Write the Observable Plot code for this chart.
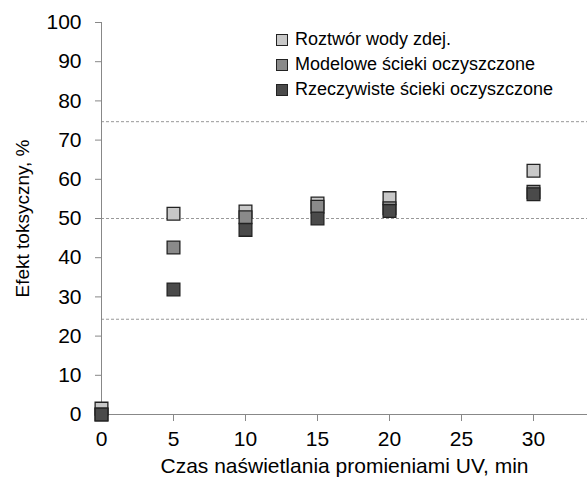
<!DOCTYPE html>
<html>
<head>
<meta charset="utf-8">
<script src="https://cdn.jsdelivr.net/npm/d3@7"></script>
<script src="https://cdn.jsdelivr.net/npm/@observablehq/plot@0.6"></script>
<style>
  body { margin: 0; background: #fff; }
  #wrap { position: relative; width: 587px; height: 480px; font-family: "Liberation Sans", Arial, sans-serif; }
  .legend { position: absolute; left: 276px; top: 27px; font-size: 18px; color: #000; }
  .legend div { height: 25px; display: flex; align-items: center; }
  .legend span.sw { display: inline-block; width: 10px; height: 10px; border: 1px solid #222; margin-right: 7px; }
</style>
</head>
<body>
<div id="wrap"></div>
<script>
const times = [0, 5, 10, 15, 20, 30];
const roztwor = [1.5, 51.2, 51.8, 53.8, 55.2, 62.2];
const modelowe = [0, 42.6, 50.3, 53.0, 52.6, 56.8];
const rzeczywiste = [0, 31.9, 47.1, 50.0, 51.9, 56.2];
const seriesNames = ["Roztwór wody zdej.", "Modelowe ścieki oczyszczone", "Rzeczywiste ścieki oczyszczone"];
const seriesColors = ["#c8c8c8", "#8a8a8a", "#4a4a4a"];
const refLines = [24.3, 50, 74.7];
const xTicks = [0, 5, 10, 15, 20, 25, 30];
const yTicks = [0, 10, 20, 30, 40, 50, 60, 70, 80, 90, 100];

const seriesValues = [roztwor, modelowe, rzeczywiste];
const data = [];
seriesValues.forEach((vals, s) => vals.forEach((v, i) => data.push({t: times[i], v, s: seriesNames[s], c: seriesColors[s]})));

const font = "Liberation Sans, Arial, sans-serif";
const chart = Plot.plot({
  width: 587,
  height: 480,
  marginLeft: 101,
  marginRight: 0,
  marginTop: 22,
  marginBottom: 66,
  style: {fontFamily: font, fontSize: "20px", color: "#000", background: "#fff"},
  x: {domain: [0, 33.75]},
  y: {domain: [0, 100]},
  marks: [
    Plot.ruleY(refLines, {stroke: "#999", strokeWidth: 1, strokeDasharray: "3,2"}),
    Plot.ruleX([0], {y1: 0, y2: 100, stroke: "#888", strokeWidth: 1}),
    Plot.ruleY([0], {stroke: "#888", strokeWidth: 1}),
    Plot.axisY({ticks: yTicks, tickSize: 6, tickPadding: 14, stroke: "#888", label: null, fontSize: 21}),
    Plot.axisX({ticks: xTicks, tickSize: 7, tickPadding: 10, stroke: "#888", label: null, fontSize: 21}),
    Plot.text(["Efekt toksyczny, %"], {frameAnchor: "left", textAnchor: "middle", dx: -79, rotate: -90, fontSize: 19, fill: "#000"}),
    Plot.text(["Czas naświetlania promieniami UV, min"], {frameAnchor: "bottom", textAnchor: "middle", dy: 58, fontSize: 21, fill: "#000"}),
    Plot.dot(data, {x: "t", y: "v", symbol: "square", r: 7.2, fill: "c", stroke: "#222", strokeWidth: 1.3})
  ]
});
document.getElementById("wrap").appendChild(chart);

const legend = document.createElement("div");
legend.className = "legend";
seriesNames.forEach((n, i) => {
  const row = document.createElement("div");
  const sw = document.createElement("span");
  sw.className = "sw";
  sw.style.background = seriesColors[i];
  row.appendChild(sw);
  row.appendChild(document.createTextNode(n));
  legend.appendChild(row);
});
document.getElementById("wrap").appendChild(legend);
</script>
</body>
</html>
